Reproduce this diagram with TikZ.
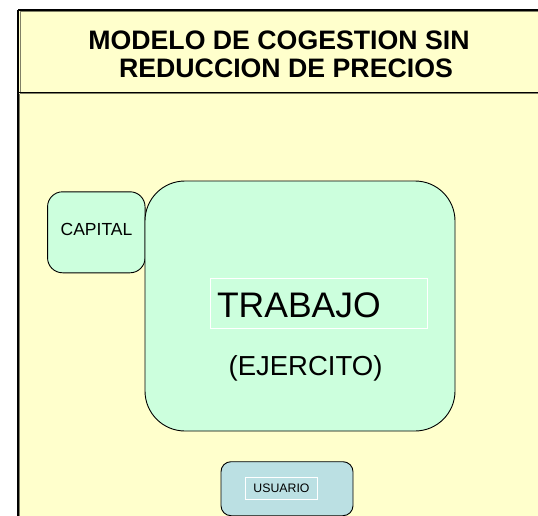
\documentclass[tikz,border=0pt]{standalone}
\usepackage{fontspec}
\setmainfont{Liberation Sans}
\definecolor{bgyellow}{HTML}{FFFFCC}
\definecolor{mint}{HTML}{CCFFDD}
\definecolor{paleblue}{HTML}{BBE0E3}
\definecolor{edgegray}{HTML}{808066}
\begin{document}
\begin{tikzpicture}[x=1pt,y=-1pt,
  rbox/.style={draw=black,line width=0.9pt,rounded corners=#1,inner sep=0pt},
  framebox/.style={draw=white,line width=0.6pt,inner sep=0pt},
  plain/.style={inner sep=0pt,outer sep=0pt}]
\useasboundingbox (0,0) rectangle (538,516);
% background frame
\fill[bgyellow] (18,10) rectangle (560,530);
% title box borders
\draw[edgegray,line width=1pt] (20,12) -- (560,12);
\draw[edgegray,line width=1pt] (20,12) -- (20,92);
\draw[edgegray,line width=1pt] (19.8,93.8) -- (560,93.8);
\draw[edgegray,line width=1pt] (19.8,93.8) -- (19.8,530);
\draw[black,line width=1.4pt] (18,10) -- (560,10);
\draw[black,line width=1.4pt] (18,10) -- (18,530);
\draw[black,line width=1.3pt] (18,92.3) -- (560,92.3);
% title
\node[plain,font=\bfseries\fontsize{26.7}{28}\selectfont,anchor=base] (t1) at (279,50) {MODELO DE COGESTION SIN};
\node[plain,font=\bfseries\fontsize{26.7}{28}\selectfont,anchor=base] (t2) at (286,77.5) {REDUCCION DE PRECIOS};
% boxes
\node[rbox=15pt,fill=mint,minimum width=97.5pt,minimum height=81pt] (capital) at (96.3,232.3) {};
\node[plain,font=\fontsize{17.5}{20}\selectfont,anchor=base] (capt) at (96.5,235) {CAPITAL};
\node[rbox=40pt,fill=mint,minimum width=310pt,minimum height=250pt] (trabajo) at (300,306) {};
\node[framebox,minimum width=217pt,minimum height=50pt] (trabframe) at (318.5,303) {};
\node[plain,font=\fontsize{35.5}{40}\selectfont,anchor=base west] (trabt) at (217,317) {TRABAJO};
\node[plain,font=\fontsize{27.5}{30}\selectfont,anchor=base] (ejer) at (305.5,375) {(EJERCITO)};
\node[rbox=10pt,fill=paleblue,minimum width=132pt,minimum height=54pt] (usuario) at (287,488.7) {};
\node[framebox,minimum width=72pt,minimum height=22pt] (usuframe) at (281.7,488) {};
\node[plain,font=\fontsize{12.3}{14}\selectfont,anchor=base] (usut) at (281.5,492.3) {USUARIO};
\end{tikzpicture}
\end{document}
